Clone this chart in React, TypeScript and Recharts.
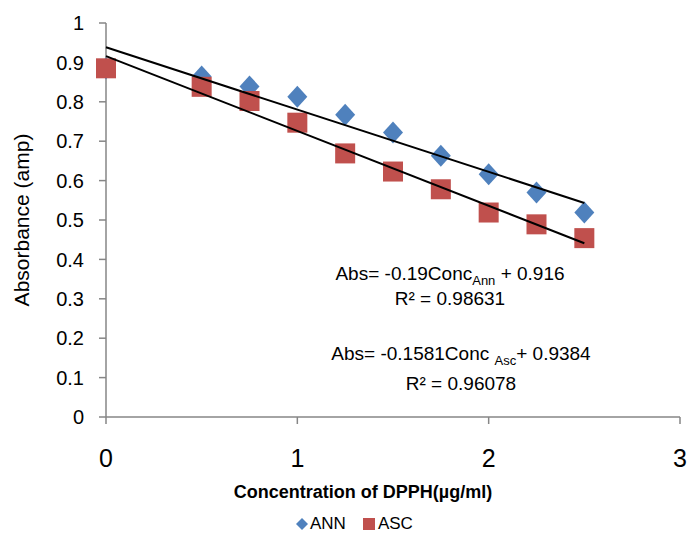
import { ScatterChart, Scatter, XAxis, YAxis, Legend, Customized } from 'recharts'

// DPPH concentration (µg/ml) and measured absorbance
const conc = [0, 0.5, 0.75, 1, 1.25, 1.5, 1.75, 2, 2.25, 2.5]
const annAbs = [0.885, 0.864, 0.839, 0.813, 0.767, 0.722, 0.663, 0.616, 0.57, 0.519]
const ascAbs = [0.885, 0.838, 0.802, 0.747, 0.669, 0.623, 0.578, 0.519, 0.489, 0.454]

// linear fits, end points at 0 and 2.5
const fitConc = [0, 2.5]
const annFit = [0.9384, 0.5431]
const ascFit = [0.916, 0.441]

const xTicks = [0, 1, 2, 3]
const yTicks = [0, 0.1, 0.2, 0.3, 0.4, 0.5, 0.6, 0.7, 0.8, 0.9, 1]

const annData = conc.map((x, i) => ({ x, y: annAbs[i] }))
const ascData = conc.map((x, i) => ({ x, y: ascAbs[i] }))
const annFitData = fitConc.map((x, i) => ({ x, y: annFit[i] }))
const ascFitData = fitConc.map((x, i) => ({ x, y: ascFit[i] }))

const BLUE = '#4F81BD'
const RED = '#C0504D'
const AXIS = '#868686'
const FONT = '"Liberation Sans", Arial, sans-serif'

const Diamond = ({ cx, cy }: any) => (
  <polygon
    points={`${cx},${cy - 11} ${cx + 10},${cy} ${cx},${cy + 11} ${cx - 10},${cy}`}
    fill={BLUE}
  />
)

const Square = ({ cx, cy }: any) => <rect x={cx - 10} y={cy - 10} width={20} height={20} fill={RED} />

const NoMark = () => <g />

const Equations = () => (
  <g fontFamily={FONT} fontSize={19} fill="#000" textAnchor="middle">
    <text x={450} y={280}>
      Abs= -0.19Conc<tspan fontSize={13} dy={5}>Ann</tspan>
      <tspan dy={-5}> + 0.916</tspan>
    </text>
    <text x={450} y={305}>R² = 0.98631</text>
    <text x={461} y={360}>
      Abs= -0.1581Conc <tspan fontSize={13} dy={5}>Asc</tspan>
      <tspan dy={-5}>+ 0.9384</tspan>
    </text>
    <text x={461} y={390}>R² = 0.96078</text>
  </g>
)

const LegendBox = () => (
  <div
    style={{
      display: 'flex',
      alignItems: 'center',
      paddingLeft: 296,
      height: 20,
      fontFamily: FONT,
      fontSize: 17,
      color: '#000',
    }}
  >
    <svg width={12} height={12} style={{ marginRight: 2 }}>
      <polygon points="6,0 12,6 6,12 0,6" fill={BLUE} />
    </svg>
    <span>ANN</span>
    <svg width={12} height={12} style={{ marginLeft: 17, marginRight: 3 }}>
      <rect width={12} height={12} fill={RED} />
    </svg>
    <span>ASC</span>
  </div>
)

export default function App() {
  return (
    <div style={{ position: 'absolute', left: 0, top: 0, background: '#fff' }}>
      <ScatterChart width={688} height={535} margin={{ top: 23, right: 8, bottom: 1, left: 0 }}>
        <XAxis
          type="number"
          dataKey="x"
          domain={[0, 3]}
          ticks={xTicks}
          interval={0}
          stroke={AXIS}
          strokeWidth={1.5}
          tickSize={7}
          tickMargin={25}
          height={97}
          tick={{ fill: '#000', fontSize: 25, fontFamily: FONT }}
          label={{
            value: 'Concentration of DPPH(µg/ml)',
            position: 'insideTop',
            offset: 68,
            dx: -30,
            style: {
              fill: '#000',
              fontSize: 18,
              fontWeight: 'bold',
              fontFamily: '"Liberation Sans Narrow", "Liberation Sans", sans-serif',
            },
          }}
        />
        <YAxis
          type="number"
          dataKey="y"
          domain={[0, 1]}
          ticks={yTicks}
          interval={0}
          stroke={AXIS}
          strokeWidth={1.5}
          tickSize={7}
          tickMargin={15}
          width={106}
          tick={{ fill: '#000', fontSize: 20, fontFamily: FONT }}
          label={{
            value: 'Absorbance (amp)',
            angle: -90,
            position: 'insideLeft',
            offset: 22,
            style: { textAnchor: 'middle', fill: '#000', fontSize: 21, fontFamily: FONT },
          }}
        />
        <Scatter name="ANN" data={annData} shape={Diamond} isAnimationActive={false} />
        <Scatter name="ASC" data={ascData} shape={Square} isAnimationActive={false} />
        <Scatter
          data={annFitData}
          shape={NoMark}
          line={{ stroke: '#000', strokeWidth: 2 }}
          legendType="none"
          isAnimationActive={false}
        />
        <Scatter
          data={ascFitData}
          shape={NoMark}
          line={{ stroke: '#000', strokeWidth: 2 }}
          legendType="none"
          isAnimationActive={false}
        />
        <Customized component={Equations} />
        <Legend verticalAlign="bottom" content={LegendBox} />
      </ScatterChart>
    </div>
  )
}
